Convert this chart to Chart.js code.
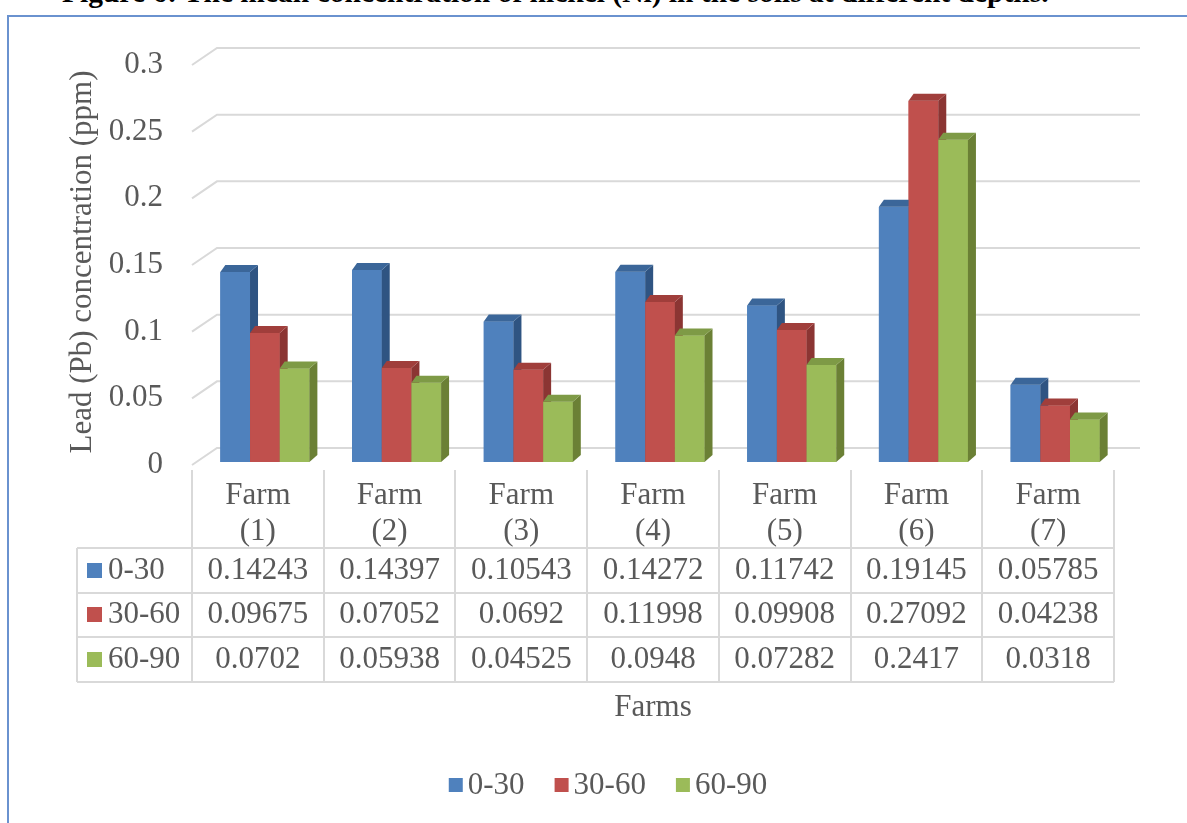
<!DOCTYPE html>
<html>
<head>
<meta charset="utf-8">
<script src="https://cdn.jsdelivr.net/npm/chart.js@4.4.0/dist/chart.umd.min.js"></script>
<style>
  html, body { margin: 0; padding: 0; background: #fff; overflow: hidden; }
  #wrap { position: relative; width: 1187px; height: 823px; overflow: hidden; }
  #title { position: absolute; left: 62px; top: -22px; font: bold 29.5px "Liberation Serif"; line-height: 1; white-space: nowrap; color: #000; }
  #frame { position: absolute; left: 7px; top: 15px; width: 1200px; height: 900px; border-left: 2px solid #6a92cf; border-top: 2px solid #6a92cf; }
  canvas { position: absolute; left: 0; top: 0; }
</style>
</head>
<body>
<div id="wrap">
  <div id="title">Figure 6: The mean concentration of nickel (Ni) in the soils at different depths.</div>
  <div id="frame"></div>
  <canvas id="chart" width="1187" height="823"></canvas>
</div>
<script>
const farms = [["Farm", "(1)"], ["Farm", "(2)"], ["Farm", "(3)"], ["Farm", "(4)"], ["Farm", "(5)"], ["Farm", "(6)"], ["Farm", "(7)"]];
const depths = ["0-30", "30-60", "60-90"];
const depth0to30 = [0.14243, 0.14397, 0.10543, 0.14272, 0.11742, 0.19145, 0.05785];
const depth30to60 = [0.09675, 0.07052, 0.0692, 0.11998, 0.09908, 0.27092, 0.04238];
const depth60to90 = [0.0702, 0.05938, 0.04525, 0.0948, 0.07282, 0.2417, 0.0318];
const yMax = 0.3;
const yStep = 0.05;

const FONT = "Liberation Serif";
const TEXT = "#595959";
const GRID = "#d9d9d9";
const fronts = ["#4f81bd", "#c0504d", "#9bbb59"];
const sides = ["#2f5482", "#8b3533", "#6b8035"];
const tops = ["#3b6699", "#a03e3b", "#7e9a46"];
const DX = 8, DY = 7;      // bar depth
const TABLE_SHIFT = -7;    // table/back wall vs bar fronts

// back wall gridlines + 3d faces + data table + legend
const excel3d = {
  id: "excel3d",
  beforeDatasetsDraw(chart) {
    const { ctx, chartArea } = chart;
    const y = chart.scales.y;
    ctx.save();
    ctx.strokeStyle = GRID;
    ctx.lineWidth = 2;
    y.ticks.forEach(t => {
      const py = y.getPixelForValue(t.value);
      const x0 = chartArea.left + TABLE_SHIFT;
      ctx.beginPath();
      ctx.moveTo(x0, py + 3);
      ctx.lineTo(x0 + 25, py - 14);
      ctx.lineTo(chartArea.right + 19, py - 14);
      ctx.stroke();
    });
    ctx.restore();
  },
  afterDatasetsDraw(chart) {
    const ctx = chart.ctx;
    ctx.save();
    chart.data.datasets.forEach((ds, i) => {
      chart.getDatasetMeta(i).data.forEach(bar => {
        bar.draw(ctx);
        const p = bar.getProps(["x", "y", "base", "width"], true);
        const x0 = p.x - p.width / 2, x1 = p.x + p.width / 2;
        ctx.fillStyle = sides[i];
        ctx.beginPath();
        ctx.moveTo(x1, p.y);
        ctx.lineTo(x1 + DX, p.y - DY);
        ctx.lineTo(x1 + DX, p.base - DY);
        ctx.lineTo(x1, p.base);
        ctx.closePath();
        ctx.fill();
        ctx.fillStyle = tops[i];
        ctx.beginPath();
        ctx.moveTo(x0, p.y);
        ctx.lineTo(x1, p.y);
        ctx.lineTo(x1 + DX, p.y - DY);
        ctx.lineTo(x0 + DX - 3, p.y - DY);
        ctx.closePath();
        ctx.fill();
      });
    });
    ctx.restore();
  },
  afterDraw(chart) {
    const { ctx } = chart;
    const xs = chart.scales.x;
    const colW = (xs.right - xs.left) / farms.length;
    const first = xs.left + TABLE_SHIFT;
    const last = first + colW * farms.length;
    const tableLeft = 77;
    const rowLines = [548, 593, 637, 682];
    const rowMid = [571, 615, 660];
    const values = [depth0to30, depth30to60, depth60to90];

    ctx.save();
    ctx.strokeStyle = GRID;
    ctx.lineWidth = 2;
    ctx.beginPath();
    for (let i = 0; i <= farms.length; i++) {
      const x = Math.round(first + i * colW);
      ctx.moveTo(x, 470);
      ctx.lineTo(x, rowLines[3]);
    }
    ctx.moveTo(tableLeft, rowLines[0]);
    ctx.lineTo(tableLeft, rowLines[3]);
    rowLines.forEach(y => { ctx.moveTo(tableLeft, y); ctx.lineTo(last, y); });
    ctx.stroke();

    ctx.fillStyle = TEXT;
    ctx.font = "31px " + FONT;
    ctx.textAlign = "center";
    ctx.textBaseline = "middle";
    farms.forEach((f, i) => {
      const cx = xs.getPixelForValue(i) + TABLE_SHIFT;
      ctx.fillText(f[0], cx, 496);
      ctx.fillText(f[1], cx, 532);
      values.forEach((row, r) => ctx.fillText(String(row[i]), cx, rowMid[r]));
    });
    ctx.textAlign = "left";
    depths.forEach((d, r) => {
      ctx.fillStyle = fronts[r];
      ctx.fillRect(87, rowMid[r] - 8, 15, 15);
      ctx.fillStyle = TEXT;
      ctx.fillText(d, 108, rowMid[r]);
    });

    // axis title
    ctx.textAlign = "center";
    ctx.fillText("Farms", (first + last) / 2, 708);

    // legend
    const sq = 14, gap = 5, sep = 30;
    const widths = depths.map(d => sq + gap + ctx.measureText(d).width);
    const total = widths.reduce((a, b) => a + b, 0) + sep * (depths.length - 1);
    let lx = 608 - total / 2;
    ctx.textAlign = "left";
    depths.forEach((d, i) => {
      ctx.fillStyle = fronts[i];
      ctx.fillRect(lx, 778, sq, sq);
      ctx.fillStyle = TEXT;
      ctx.fillText(d, lx + sq + gap, 786);
      lx += widths[i] + sep;
    });
    ctx.restore();
  }
};

new Chart(document.getElementById("chart"), {
  type: "bar",
  data: {
    labels: farms,
    datasets: [
      { label: depths[0], data: depth0to30, backgroundColor: fronts[0] },
      { label: depths[1], data: depth30to60, backgroundColor: fronts[1] },
      { label: depths[2], data: depth60to90, backgroundColor: fronts[2] }
    ]
  },
  options: {
    responsive: false,
    animation: false,
    layout: { padding: { top: 62, right: 66, bottom: 361, left: 0 } },
    datasets: { bar: { categoryPercentage: 0.676, barPercentage: 1 } },
    scales: {
      x: { display: false },
      y: {
        min: 0,
        max: yMax,
        ticks: {
          stepSize: yStep,
          color: TEXT,
          padding: 36,
          labelOffset: 3,
          font: { family: FONT, size: 31 },
          callback: v => String(+v.toFixed(2))
        },
        grid: { display: false, drawTicks: false },
        border: { display: false },
        title: {
          display: true,
          text: "Lead (Pb) concentration (ppm)",
          color: TEXT,
          font: { family: FONT, size: 31 },
          padding: { top: 64, bottom: 0 }
        },
        afterFit(scale) { scale.width = 199; }
      }
    },
    plugins: {
      legend: { display: false },
      tooltip: { enabled: false }
    }
  },
  plugins: [excel3d]
});
</script>
</body>
</html>
